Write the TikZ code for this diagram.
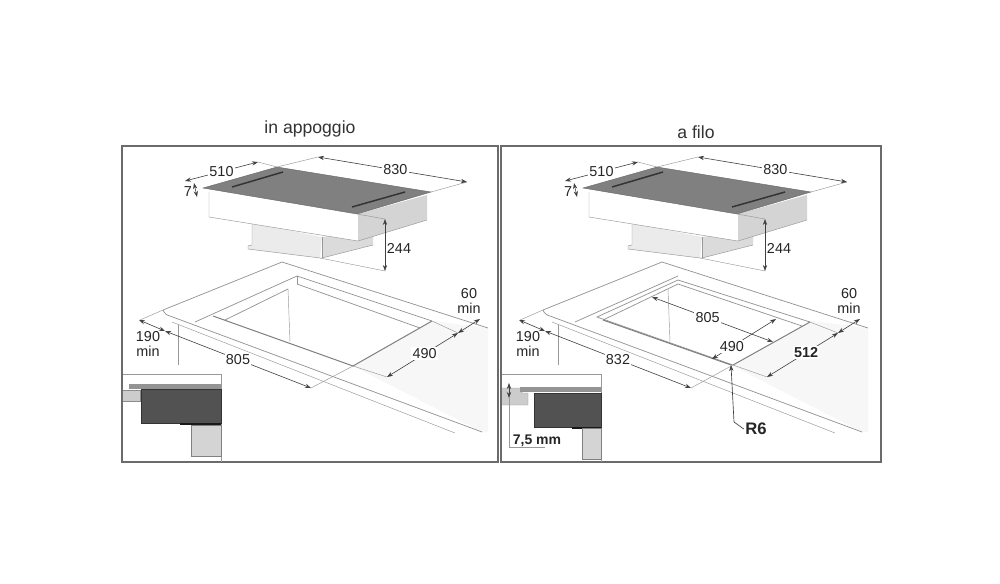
\documentclass[tikz,border=0pt]{standalone}
\usepackage{fontspec}
\setmainfont{Liberation Sans}
\usetikzlibrary{arrows.meta}

\begin{document}
\begin{tikzpicture}[x=0.75pt,y=-0.75pt,>={Stealth[length=4.5pt,width=3.2pt]}]
	
	% Styles for dimensions, labels and thin outlines
	\tikzset{
		dimline/.style={<->,draw=black!75,line width=0.45pt},
		extline/.style={draw=black!40,line width=0.35pt},
		edgeline/.style={draw=black!42,line width=0.55pt},
		cutline/.style={draw=black!50,line width=0.75pt},
		frameline/.style={draw=black!58,line width=0.8pt},
		dimlabel/.style={fill=white,inner sep=1pt,font=\fontsize{10.8}{12}\selectfont,text=black!85},
		minlabel/.style={inner sep=0pt,align=center,font=\fontsize{10.8}{10.6}\selectfont,text=black!85},
		titlelabel/.style={inner sep=0pt,font=\fontsize{13.2}{15}\selectfont,text=black!80}
	}
	
	\useasboundingbox (0,0) rectangle (1000,583);
	\fill[white] (0,0) rectangle (1000,583);
	
	% Titles
	\node[titlelabel] (titleL) at (310,129) {in appoggio};
	\node[titlelabel] (titleR) at (696,132) {a filo};
	
	% Panels
	\draw[frameline] (122,146) rectangle (498,462);
	\draw[frameline] (501,146) rectangle (881,462);
	
	%========================================
	% Parts common to both panels: hob and worktop
	%========================================
	\foreach \sx in {0,380}{
		\begin{scope}[shift={(\sx,0)}]
			
			% Worktop
			\fill[black!3] (432,321) -- (488,328) -- (488,432) -- (482,432) -- (353,366) -- cycle;
			\draw[edgeline] (163,310) -- (282,262) -- (488,328);
			\draw[edgeline] (163,310) to[out=-70,in=165] (170,316) -- (482,432);
			\draw[extline] (172,322) -- (455,433);
			
			% Lower box
			\fill[black!8] (252,223) -- (252,245) -- (248,245) -- (248,249) -- (320,258) -- (322,237) -- cycle;
			\fill[black!14] (322,237) -- (322,258) -- (373,245) -- (373,230) -- cycle;
			\draw[extline] (252,223) -- (252,245) -- (248,246) -- (248,249) -- (320,258) -- (322,258) -- (373,245);
			\draw[extline] (322,237) -- (322,258);
			
			% Hob body
			\fill[white] (209,192) -- (209,217) -- (358,241) -- (358,214) -- cycle;
			\fill[black!17] (358,214) -- (358,241) -- (427,220) -- (427,195) -- cycle;
			\draw[extline] (209,192) -- (209,217) -- (358,241) -- (427,220);
			
			% Glass top
			\fill[black!50,draw=black!60,line width=0.3pt] (203,188) -- (277,167) -- (431,192) -- (357,214) -- cycle;
			\draw[black!80,line width=1.1pt] (232,187) -- (283,172);
			\draw[black!80,line width=1.1pt] (352,207) -- (405,192);
			
			% Hob dimensions
			\draw[extline] (258,162) -- (277,167) -- (318,157);
			\draw[extline] (467,182) -- (431,192);
			\draw[extline] (357,214) -- (385,219);
			\draw[extline] (320,258) -- (385,271);
			\draw[dimline] (185,181) -- node[dimlabel] (d510\sx) {510} (258,162);
			\draw[dimline] (318,157) -- node[dimlabel,pos=0.52] (d830\sx) {830} (467,182);
			\draw[dimline] (194,183) -- (197,197);
			\node[dimlabel,fill=none] (d7\sx) at (188,192) {7};
			\draw[dimline] (385,219) -- (385,271);
			\node[dimlabel,fill=none] (d244\sx) at (399,248) {244};
			
			% Worktop dimensions
			\draw[extline] (140,320) -- (163,310);
			\draw[extline] (178,325) -- (178,365);
			\draw[dimline] (139,320) -- (165,331);
			\node[minlabel] (d190\sx) at (148,344) {190\\min};
			\node[minlabel] (d60\sx) at (469,301) {60\\min};
			\draw[dimline] (480,319) -- (458,333);
			
		\end{scope}
	}
	
	%========================================
	% Left panel: cut-out
	%========================================
	\draw[edgeline] (297,276) -- (195,322);
	\draw[edgeline] (297,276) -- (297,284);
	\draw[edgeline] (297,284) -- (420,328);
	\draw[edgeline] (288,289) -- (225,320);
	\draw[extline] (288,289) -- (290,342);
	\draw[edgeline] (297,276) -- (432,321);
	\draw[cutline] (213,316) -- (353,366) -- (432,321);
	
	\draw[extline] (311,388) -- (353,366) -- (387,377);
	\draw[extline] (458,333) -- (432,321);
	\draw[dimline] (165,331) -- node[dimlabel] (d805L) {805} (311,388);
	\draw[dimline] (458,333) -- node[dimlabel,pos=0.47] (d490L) {490} (387,377);
	
	%========================================
	% Right panel: cut-out with rebate
	%========================================
	\draw[edgeline] (678,276) -- (575,322);
	\draw[edgeline] (678,280) -- (597,317) -- (733,365);
	\draw[edgeline] (678,280) -- (810,322);
	\draw[edgeline] (678,284) -- (603,320);
	\draw[edgeline] (678,284) -- (802,326);
	\draw[extline] (668,289) -- (670,342);
	\draw[cutline] (603,320) -- (731,365);
	\draw[cutline] (810,322) -- (733,365);
	
	\draw[extline] (691,388) -- (733,365) -- (767,377);
	\draw[extline] (838,333) -- (810,322);
	\draw[dimline] (545,331) -- node[dimlabel] (d832R) {832} (691,388);
	\draw[dimline] (652,297) -- node[dimlabel,pos=0.46] (d805R) {805} (773,342);
	\draw[dimline] (776,319) -- node[dimlabel,pos=0.69] (d490R) {490} (712,359);
	\draw[dimline] (838,333) -- node[dimlabel,pos=0.45,font=\fontsize{10.8}{12}\bfseries] (d512R) {512} (767,377);
	
	% Corner radius callout
	\node[inner sep=1pt,font=\fontsize{12.5}{14}\bfseries,text=black!85] (labelR6) at (756,429) {R6};
	\draw[->,draw=black!75,line width=0.5pt] (labelR6.west) -- (734,422) -- (731,365);
	
	%========================================
	% Inset, left panel
	%========================================
	\fill[white] (122,374) rectangle (221,462);
	\draw[draw=black!40,line width=0.6pt] (122,374) -- (221,374) -- (221,462);
	\fill[black!42] (129,384) rectangle (221,389);
	\fill[black!20,draw=black!45,line width=0.3pt] (122,390) rectangle (140,401);
	\fill[black!68,draw=black!80,line width=0.3pt] (141,389) rectangle (221,423);
	\fill[black!90] (180,423) rectangle (221,425);
	\fill[black!17,draw=black!50,line width=0.4pt] (191,425) rectangle (221,456);
	\draw[frameline] (122,462) -- (221,462) (122,374) -- (122,462);
	
	%========================================
	% Inset, right panel
	%========================================
	\fill[white] (501,374) rectangle (601,462);
	\draw[draw=black!40,line width=0.6pt] (501,374) -- (601,374) -- (601,462);
	\fill[black!20,draw=black!40,line width=0.3pt] (501,388) -- (520,388) -- (522,393) -- (528,393) -- (528,405) -- (501,405) -- cycle;
	\fill[black!42] (520,387) rectangle (601,392);
	\fill[black!68,draw=black!80,line width=0.3pt] (534,393) rectangle (601,427);
	\fill[black!90] (572,427) rectangle (601,428.5);
	\fill[black!17,draw=black!50,line width=0.4pt] (582,428) rectangle (601,459);
	\draw[<->,draw=black!75,line width=0.4pt] (509,383) -- (509,398);
	\draw[extline] (509,398) -- (509,447) -- (545,447);
	\node[inner sep=0pt,font=\fontsize{10.5}{12}\bfseries,text=black!85] (label75) at (537,441) {7,5 mm};
	\draw[frameline] (501,462) -- (601,462) (501,374) -- (501,462);
	
\end{tikzpicture}
\end{document}
